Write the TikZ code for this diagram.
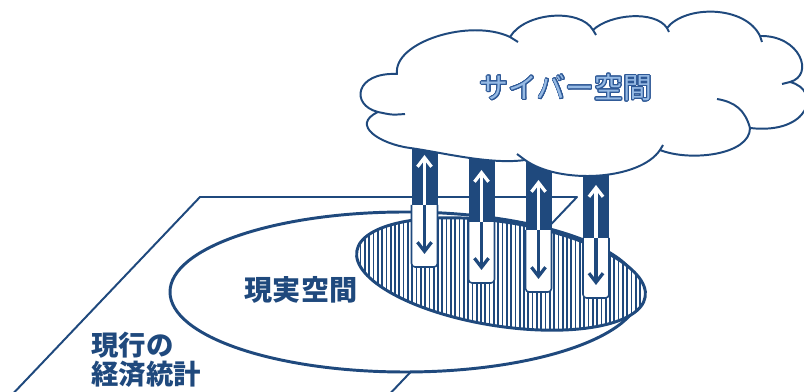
\documentclass[tikz,border=0pt]{standalone}
\usepackage{fontspec}
\newfontfamily\jpfont{Noto Sans CJK JP}
\usepackage{contour}
\contourlength{0.6pt}
\contournumber{24}
\usetikzlibrary{arrows.meta}
\definecolor{deepblue}{RGB}{31,73,125}
\definecolor{skyfill}{RGB}{150,186,228}
\definecolor{skyedge}{RGB}{45,88,150}

\begin{document}
\begin{tikzpicture}[x=0.025cm,y=-0.025cm,line join=round,
  >={Straight Barb[length=6.5pt,width=10pt]},
  every node/.style={font=\jpfont\bfseries\fontsize{20}{21}\selectfont,text=deepblue,inner sep=0pt},
  plane/.style={draw=deepblue,line width=1.4pt},
  realm/.style={draw=deepblue,fill=white,line width=2.1pt},
  stripe/.style={deepblue,line width=1.25pt},
  pillarlow/.style={draw=deepblue,fill=white,line width=1.1pt,rounded corners=2.5pt},
  cloudline/.style={draw=deepblue,line width=1.4pt}]
  \useasboundingbox (0,0) rectangle (804,392);
  \clip (0,0) rectangle (804,392);

  % statistics plane
  \draw[plane] (-12,420) -- (200,197) -- (577,197) -- (365,420);
  % real space
  \draw[realm] (405,292) ellipse [x radius=235, y radius=80];
  % hatched overlap
  \fill[white,rotate around={-9:(501,274)}] (501,274) ellipse [x radius=146, y radius=52];
  \begin{scope}
    \clip[rotate around={-9:(501,274)}] (501,274) ellipse [x radius=146, y radius=52];
    \foreach \sx in {352,356.3,...,652}
      \draw[stripe] (\sx,200) -- (\sx,345);
  \end{scope}
  \draw[realm,fill=none,rotate around={-9:(501,274)}] (501,274) ellipse [x radius=146, y radius=52];

  % data pillars
  \foreach \px/\ym/\yb/\tu/\td in {424.5/205/267/155/254, 481.5/222/283/170/270,
      538.5/230/292/180/279, 596/238/298/185/285}{
    \draw[pillarlow] (\px-13,\ym) |- (\px+13,\yb) -- (\px+13,\ym);
    \fill[deepblue] (\px-13,120) rectangle (\px+13,\ym);
    \draw[->,white,line width=2.3pt] (\px,\ym) -- (\px,\tu);
    \draw[->,deepblue,line width=2.3pt] (\px,\ym) -- (\px,\td);
  }

  % cyber space cloud
  \path[cloudline,fill=white] (397,74)
    .. controls (393,42) and (470,18) .. (510,37)
    .. controls (525,12) and (580,8) .. (593,30)
    .. controls (610,14) and (655,10) .. (667,28)
    .. controls (685,5) and (745,5) .. (760,36)
    .. controls (800,35) and (815,75) .. (790,82)
    .. controls (822,90) and (810,135) .. (750,128)
    .. controls (750,155) and (690,162) .. (660,150)
    .. controls (640,180) and (560,185) .. (525,160)
    .. controls (490,165) and (440,152) .. (410,148)
    .. controls (380,144) and (350,125) .. (378,112)
    .. controls (350,105) and (355,72) .. cycle;
  % lobe hooks
  \draw[cloudline] (510,37) -- (518,42);
  \draw[cloudline] (593,30) -- (596,35);
  \draw[cloudline] (667,28) -- (669,32);
  \draw[cloudline] (760,36) -- (762,42);
  \draw[cloudline] (790,82) -- (782,84);
  \draw[cloudline] (750,128) .. controls (745,110) and (735,102) .. (717,99);
  \draw[cloudline] (660,150) -- (663,145);
  \draw[cloudline] (525,160) -- (517,154);
  \draw[cloudline] (378,112) .. controls (392,115) .. (405,114);

  \node[font=\jpfont\fontsize{20.5}{22}\selectfont,text=skyfill] (cyber) at (566,88)
    {\contour{skyedge}{サイバー空間}};
  \node (real) at (301,290) {現実空間};
  \node[align=left,anchor=west,font=\jpfont\bfseries\fontsize{19.5}{20.5}\selectfont] (stats) at (91,360) {現行の\\経済統計};
\end{tikzpicture}
\end{document}
